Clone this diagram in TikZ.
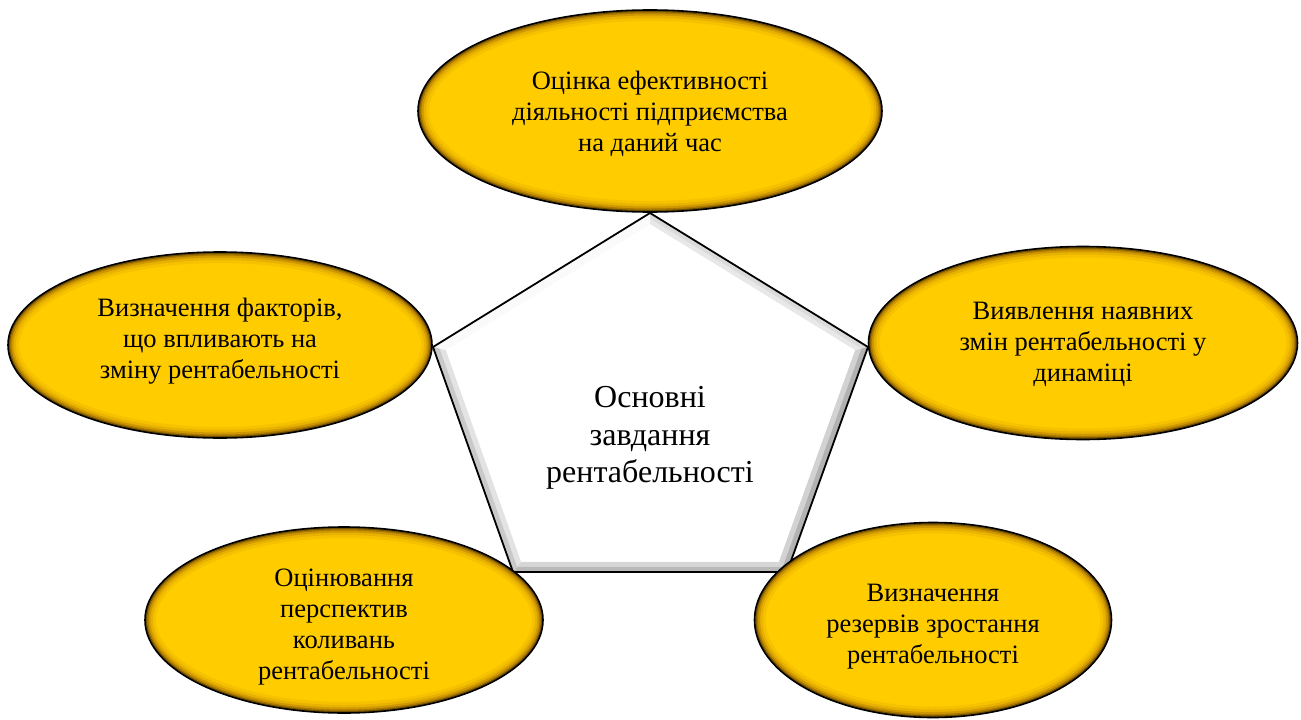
\documentclass[tikz,border=0pt]{standalone}
\usepackage{fontspec}
\setmainfont{Liberation Serif}
\usetikzlibrary{shapes.geometric,calc}
\definecolor{ygold}{RGB}{255,204,0}
\definecolor{yrimA}{RGB}{246,194,0}
\definecolor{yrimB}{RGB}{232,178,0}
\definecolor{yrimC}{RGB}{208,152,0}
\definecolor{yrimD}{RGB}{170,122,0}
\definecolor{yrimE}{RGB}{115,80,0}
\newcommand\goldrim[3]{%
  \begin{scope}
    \clip (#1.center) ellipse [x radius=#2, y radius=#3];
    \draw[line width=22pt, yrimA] (#1.center) ellipse [x radius=#2, y radius=#3];
    \draw[line width=16pt, yrimB] (#1.center) ellipse [x radius=#2, y radius=#3];
    \draw[line width=11pt, yrimC] (#1.center) ellipse [x radius=#2, y radius=#3];
    \draw[line width=7pt, yrimD] (#1.center) ellipse [x radius=#2, y radius=#3];
    \draw[line width=4pt, yrimE] (#1.center) ellipse [x radius=#2, y radius=#3];
  \end{scope}
  \draw[line width=1.6pt] (#1.center) ellipse [x radius=#2, y radius=#3];}
\begin{document}
\begin{tikzpicture}[x=1pt,y=-1pt,
  task/.style={ellipse, fill=ygold, inner sep=0pt},
  tasktext/.style={align=center, font=\fontsize{26.5}{31}\selectfont, inner sep=0pt},
  core/.style={align=center, font=\fontsize{32}{37.5}\selectfont, inner sep=0pt}]
\useasboundingbox (0,0) rectangle (1301,720);
% pentagon
\coordinate (pc) at (650,400);
\coordinate (pT) at (650,213);
\coordinate (pR) at (868,347);
\coordinate (pBR) at (787,572);
\coordinate (pBL) at (513,572);
\coordinate (pL) at (433,347);
\foreach \v in {T,R,BR,BL,L}{
  \coordinate (i\v) at ($(pc)!0.94!(p\v)$);
  \coordinate (m\v) at ($(pc)!0.97!(p\v)$);}
\fill[gray!4] (pL) -- (pT) -- (iT) -- (iL) -- cycle;
\fill[gray!18] (pT) -- (pR) -- (iR) -- (iT) -- cycle;
\fill[gray!28] (pT) -- (pR) -- (mR) -- (mT) -- cycle;
\fill[gray!35] (pR) -- (pBR) -- (iBR) -- (iR) -- cycle;
\fill[gray!60] (pR) -- (pBR) -- (mBR) -- (mR) -- cycle;
\fill[gray!32] (pBR) -- (pBL) -- (iBL) -- (iBR) -- cycle;
\fill[gray!55] (pBR) -- (pBL) -- (mBL) -- (mBR) -- cycle;
\fill[gray!22] (pBL) -- (pL) -- (iL) -- (iBL) -- cycle;
\fill[gray!42] (pBL) -- (pL) -- (mL) -- (mBL) -- cycle;
\fill[white] (iT) -- (iR) -- (iBR) -- (iBL) -- (iL) -- cycle;
\draw[line width=1.8pt, line join=miter] (pT) -- (pR) -- (pBR) -- (pBL) -- (pL) -- cycle;
\node[core] (core) at (650,438) {Основні\\завдання\\рентабельності};
% ellipses
\node[task, minimum width=464, minimum height=202] (top) at (650,111) {};
\goldrim{top}{232}{101}
\node[tasktext] (top-t) at ($(top.center)+(0,3)$)
  {Оцінка ефективності\\діяльності підприємства\\на даний час};
\node[task, minimum width=424, minimum height=186] (left) at (220,345) {};
\goldrim{left}{212}{93}
\node[tasktext] (left-t) at ($(left.center)+(0,-4)$)
  {Визначення факторів,\\що впливають на\\зміну рентабельності};
\node[task, minimum width=429, minimum height=193] (right) at (1083,343) {};
\goldrim{right}{214.5}{96.5}
\node[tasktext] (right-t) at ($(right.center)+(0,1)$)
  {Виявлення наявних\\змін рентабельності у\\динаміці};
\node[task, minimum width=398, minimum height=186] (bl) at (344,620) {};
\goldrim{bl}{199}{93}
\node[tasktext] (bl-t) at ($(bl.center)+(0,7)$)
  {Оцінювання\\перспектив\\коливань\\рентабельності};
\node[task, minimum width=357, minimum height=195] (br) at (933,620) {};
\goldrim{br}{178.5}{97.5}
\node[tasktext] (br-t) at ($(br.center)+(0,7)$)
  {Визначення\\резервів зростання\\рентабельності};
\end{tikzpicture}
\end{document}
